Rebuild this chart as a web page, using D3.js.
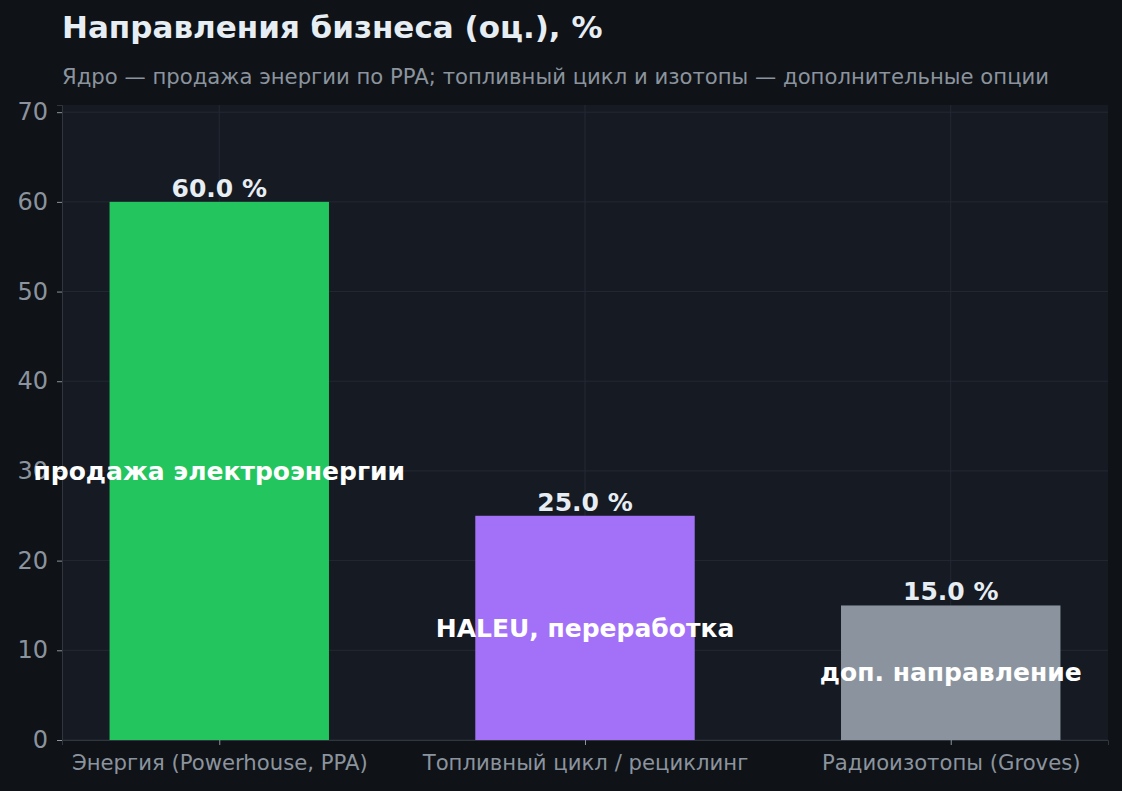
<!DOCTYPE html>
<html><head><meta charset="utf-8">
<script src="https://cdn.jsdelivr.net/npm/d3@7"></script>
<style>
html,body{margin:0;padding:0;background:#0f1216;}
svg{display:block;font-family:"DejaVu Sans",sans-serif;}
</style></head>
<body>
<svg id="chart" width="1122" height="791"></svg>
<script>
const categories = ["Энергия (Powerhouse, PPA)", "Топливный цикл / рециклинг", "Радиоизотопы (Groves)"];
const values = [60, 25, 15];
const innerLabels = ["продажа электроэнергии", "HALEU, переработка", "доп. направление"];
const barColors = ["#22c55e", "#a371f7", "#8b949e"];
const yTicks = [0, 10, 20, 30, 40, 50, 60, 70];
const titleText = "Направления бизнеса (оц.), %";
const subtitleText = "Ядро — продажа энергии по PPA; топливный цикл и изотопы — дополнительные опции";

const svg = d3.select("#chart");
const W = 1122, H = 791;
const m = {left: 62, right: 14, top: 105, bottom: 51};
const pw = W - m.left - m.right, ph = H - m.top - m.bottom;

svg.append("rect").attr("width", W).attr("height", H).attr("fill", "#0f1216");

const x = d3.scaleLinear().domain([-0.43, categories.length - 1 + 0.43]).range([0, pw]);
const y = d3.scaleLinear().domain([0, d3.max(values) * 1.18]).range([ph, 0]);
const barW = x(0.6) - x(0);

const g = svg.append("g").attr("transform", `translate(${m.left},${m.top})`);
g.append("rect").attr("width", pw).attr("height", ph).attr("fill", "#161a22");

// grid
g.append("g").selectAll("line.hg").data(yTicks).join("line")
  .attr("x1", 0).attr("x2", pw).attr("y1", d => y(d)).attr("y2", d => y(d))
  .attr("stroke", "#232934").attr("stroke-width", 1);
g.append("g").selectAll("line.vg").data(categories.map((c, i) => i)).join("line")
  .attr("x1", d => x(d)).attr("x2", d => x(d)).attr("y1", 0).attr("y2", ph)
  .attr("stroke", "#232934").attr("stroke-width", 1);

// bars
g.selectAll("rect.bar").data(values).join("rect").attr("class", "bar")
  .attr("x", (d, i) => x(i) - barW / 2).attr("width", barW)
  .attr("y", d => y(d)).attr("height", d => ph - y(d))
  .attr("fill", (d, i) => barColors[i]);

// axes
const yAxis = d3.axisLeft(y).tickValues(yTicks).tickSize(5).tickPadding(9);
const yg = g.append("g").call(yAxis);
yg.select(".domain").attr("stroke", "#30363d");
yg.selectAll(".tick line").attr("stroke", "#8b949e");
yg.selectAll(".tick text").attr("fill", "#8b949e").attr("font-size", 24).attr("font-family", "DejaVu Sans");

const xAxis = d3.axisBottom(x).tickValues(categories.map((c, i) => i)).tickFormat(i => categories[i]).tickSize(5).tickPadding(10);
const xg = g.append("g").attr("transform", `translate(0,${ph})`).call(xAxis);
xg.select(".domain").attr("stroke", "#30363d");
xg.selectAll(".tick line").attr("stroke", "#8b949e");
xg.selectAll(".tick text").attr("fill", "#8b949e").attr("font-size", 21.2).attr("font-family", "DejaVu Sans");

// value labels
g.selectAll("text.val").data(values).join("text")
  .attr("x", (d, i) => x(i)).attr("y", d => y(d) - 5)
  .attr("text-anchor", "middle").attr("fill", "#e6edf3")
  .attr("font-weight", "bold").attr("font-size", 25)
  .text(d => d.toFixed(1) + " %");

// inner labels
g.selectAll("text.inner").data(values).join("text")
  .attr("x", (d, i) => x(i)).attr("y", d => y(d / 2))
  .attr("dy", "0.35em")
  .attr("text-anchor", "middle").attr("fill", "#ffffff")
  .attr("font-weight", "bold").attr("font-size", 25)
  .text((d, i) => innerLabels[i]);

// titles
svg.append("text").attr("x", 62).attr("y", 38).attr("fill", "#e6edf3")
  .attr("font-weight", "bold").attr("font-size", 31).text(titleText);
svg.append("text").attr("x", 62).attr("y", 84).attr("fill", "#8b949e")
  .attr("font-size", 21.2).text(subtitleText);
</script>
</body></html>
